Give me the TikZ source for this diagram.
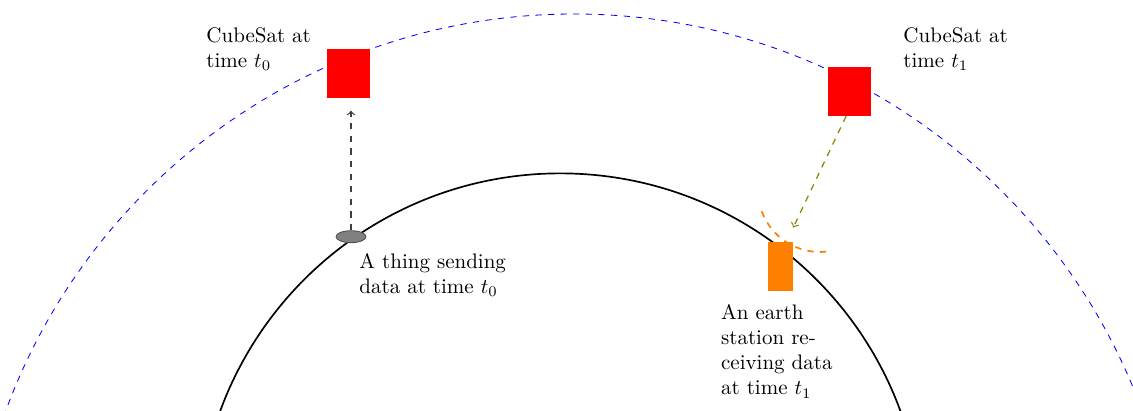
\documentclass[tikz,border=0pt]{standalone}
\usetikzlibrary{shapes.geometric}
\tikzset{
  px/.style={x=0.47619pt, y=-0.47619pt},
  sat/.style={rectangle, fill=red, inner sep=0pt, minimum width=20.5pt, minimum height=23.2pt},
  station/.style={rectangle, fill=orange, inner sep=0pt, minimum width=11.8pt, minimum height=23.2pt},
  thingshape/.style={ellipse, fill=gray, draw=black!70, thin, inner sep=0pt, minimum width=14.3pt, minimum height=5.7pt},
  lbl/.style={inner sep=0pt, anchor=base west, align=left, font=\normalsize},
  uplink/.style={->, dashed, black!75, semithick},
  downlink/.style={->, dashed, olive, semithick},
  beam/.style={dashed, orange, thick},
}
\begin{document}
\begin{tikzpicture}[px]
\useasboundingbox (0,0) rectangle (1133,410);
\clip (0,0) rectangle (1133,410);
% orbit and earth
\draw[blue, dashed, thin] (574,619) circle[radius=288.1pt];
\draw[thick] (560.3,535.4) circle[radius=172.4pt];
% nodes
\node[sat] (sat0) at (348.5,73.3) {};
\node[sat] (sat1) at (849.3,91.3) {};
\node[thingshape] (thing) at (351,236.7) {};
\node[station] (st) at (780.4,266.4) {};
% labels
\node[lbl, text width=2cm] (l0) at (206,42.3) {CubeSat at time $t_0$};
\node[lbl, text width=2cm] (l1) at (903,42.3) {CubeSat at time $t_1$};
\node[lbl, text width=2.5cm] (l2) at (359,268.3) {A thing sending data at time $t_0$};
\node[lbl, text width=2cm] (l3) at (720.7,319.3) {An earth station receiving data at time $t_1$};
% connectors
\draw[uplink, shorten >=6pt] (thing.north) -- (thing.north |- sat0.south);
\coordinate (rx) at ([yshift=6.7pt]st.north east);
\draw[downlink] ([xshift=-1.5pt]sat1.south) -- (rx);
% beam arc
\draw[beam] (st.center) ++(-18.7,-55.2) arc[start angle=200, end angle=277, radius=29.5pt];
\end{tikzpicture}
\end{document}
